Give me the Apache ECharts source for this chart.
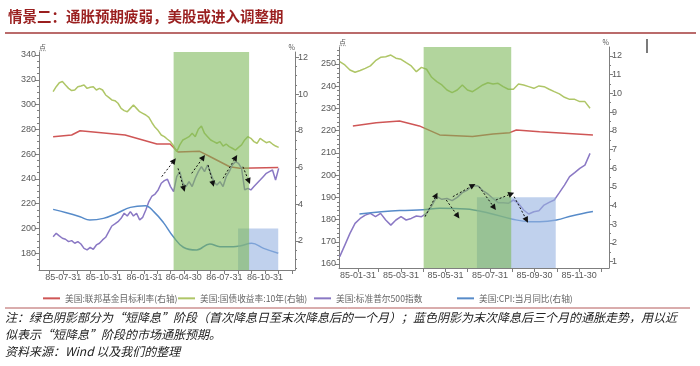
<!DOCTYPE html>
<html><head><meta charset="utf-8">
<script src="https://cdn.jsdelivr.net/npm/echarts@6/dist/echarts.min.js"></script>
<style>html,body{margin:0;padding:0;background:#fff}#c{width:700px;height:366px}</style>
</head><body><div id="c"></div>
<script>
// ---------- names ----------
const seriesNames = ['美国:联邦基金目标利率(右轴)', '美国:国债收益率:10年(右轴)', '美国:标准普尔500指数', '美国:CPI:当月同比(右轴)'];
const titleText = '情景二：通胀预期疲弱，美股或进入调整期';
const noteLines = [
  '注：绿色阴影部分为“短降息”阶段（首次降息日至末次降息后的一个月）；蓝色阴影为末次降息后三个月的通胀走势，用以近',
  '似表示“短降息”阶段的市场通胀预期。',
  '资料来源：Wind 以及我们的整理'
];

// ---------- left panel (1985-07 ~ 1986-11), weekly samples ----------
const leftWeekStart = '1985-07-08';
const leftSP = [193.4,196.1,194.0,192.1,191.3,189.4,190.2,188.1,189.4,187.5,
  184.0,182.7,184.8,183.2,186.7,188.1,190.8,192.9,197.5,202.0,
  203.7,205.5,208.2,212.3,210.1,213.6,210.1,212.3,206.9,209.0,
  214.9,221.7,226.2,227.8,231.1,236.5,238.6,239.7,233.8,229.7,
  241.8,245.9,236.5,233.8,237.8,233.8,240.5,245.9,249.9,245.9,
  251.2,244.5,237.8,235.1,237.8,233.8,241.8,245.9,251.2,253.9,
  252.6,248.5,231.1,232.4,231.1,233.8,236.5,239.1,241.8,244.5,
  245.9,247.2,239.1,248.5];
const leftY10 = [10.13,10.40,10.62,10.68,10.49,10.31,10.19,10.22,10.40,10.44,
  10.49,10.31,10.37,10.40,10.22,10.31,10.22,9.95,9.82,9.68,
  9.64,9.50,9.22,9.10,9.04,9.22,9.40,9.22,9.04,8.95,
  8.86,8.73,8.44,8.19,8.01,7.77,7.68,7.54,7.41,7.17,
  6.86,7.23,7.50,7.59,7.68,7.86,7.68,8.08,8.26,7.86,
  7.68,7.50,7.41,7.32,7.41,7.17,7.28,7.14,7.05,6.95,
  7.10,7.23,7.50,7.68,7.59,7.41,7.32,7.59,7.46,7.35,
  7.41,7.28,7.17,7.10];
const leftFedDates = ['1985-07-08','1985-08-19','1985-09-07','1985-12-18','1986-02-28','1986-03-30','1986-04-17','1986-06-05','1986-06-28','1986-08-12','1986-09-04','1986-11-30'];
const leftFed = [7.68,7.77,8.00,7.77,7.28,7.28,6.85,6.88,6.60,6.04,5.96,6.00];
const leftCpiDates = ['1985-07-08','1985-08-07','1985-09-07','1985-09-29','1985-10-30','1985-11-29','1985-12-30','1986-02-02','1986-02-21','1986-03-15','1986-04-06','1986-04-29','1986-05-29','1986-06-28','1986-07-21','1986-08-20','1986-09-04','1986-10-01','1986-10-28','1986-11-30'];
const leftCpi = [3.72,3.54,3.32,3.14,3.23,3.50,3.83,3.92,3.60,3.00,2.24,1.66,1.51,1.84,1.69,1.69,1.73,1.87,1.60,1.33];
const leftXLabels = ['1985-07-31','1985-10-31','1986-01-31','1986-04-30','1986-07-31','1986-10-31'];
const leftXTicks = ['1985-06-30','1985-07-31','1985-08-31','1985-09-30','1985-10-31','1985-11-30','1985-12-31','1986-01-31','1986-02-28','1986-03-31','1986-04-30','1986-05-31','1986-06-30','1986-07-31','1986-08-31','1986-09-30','1986-10-31','1986-11-30','1986-12-31'];
const leftYLabels = [180,200,220,240,260,280,300,320,340];
const leftY2Labels = [2,4,6,8,10,12];
const leftGreenShade = ['1986-04-07','1986-09-25'];
const leftBlueShade = ['1986-08-31','1986-11-30', 200];
const leftArrows = [
  [['1986-03-11',241.8],['1986-04-12',256.6]],
  [['1986-04-17',248.5],['1986-05-02',229.7]],
  [['1986-05-18',244.5],['1986-06-17',259.3]],
  [['1986-06-24',251.2],['1986-07-07',233.7]],
  [['1986-07-28',240.5],['1986-08-29',259.3]],
  [['1986-09-11',249.8],['1986-09-27',235.9]]
];

// ---------- right panel (1985-01 ~ 1985-12), weekly samples ----------
const rightWeekStart = '1985-01-06';
const rightSP = [163.3,168.5,173.8,178.3,180.5,182.0,182.8,181.3,182.8,179.8,
  177.5,179.8,181.3,179.8,180.5,181.6,181.3,182.8,186.1,190.3,
  189.1,189.5,188.5,190.0,192.1,193.3,195.1,195.2,193.0,191.5,
  189.5,187.6,187.6,187.3,188.8,187.3,184.3,182.5,183.5,184.0,
  186.5,187.7,188.8,192.1,195.5,199.3,201.1,203.0,204.5,209.8];
const rightY10 = [11.70,11.52,11.25,11.13,11.22,11.34,11.47,11.75,11.93,11.96,
  12.05,11.88,11.82,11.64,11.47,11.16,11.39,11.29,10.86,10.63,
  10.45,10.18,10.04,10.18,10.45,10.18,10.09,10.27,10.45,10.57,
  10.50,10.54,10.36,10.22,10.22,10.50,10.45,10.36,10.27,10.40,
  10.36,10.22,10.09,9.97,9.79,9.68,9.68,9.56,9.56,9.20];
const rightFedDates = ['1985-01-24','1985-02-25','1985-03-29','1985-04-25','1985-05-23','1985-07-07','1985-08-04','1985-08-27','1985-09-05','1985-10-07','1985-12-19'];
const rightFed = [8.26,8.43,8.52,8.26,7.78,7.69,7.83,7.90,8.04,7.95,7.78];
const rightCpiDates = ['1985-02-02','1985-03-29','1985-04-30','1985-05-23','1985-06-28','1985-07-30','1985-08-31','1985-09-23','1985-10-07','1985-10-30','1985-11-21','1985-12-19'];
const rightCpi = [3.55,3.73,3.77,3.85,3.82,3.59,3.27,3.14,3.14,3.23,3.46,3.68];
const rightXLabels = ['1985-01-31','1985-03-31','1985-05-31','1985-07-31','1985-09-30','1985-11-30'];
const rightXTicks = ['1985-01-31','1985-02-28','1985-03-31','1985-04-30','1985-05-31','1985-06-30','1985-07-31','1985-08-31','1985-09-30','1985-10-31','1985-11-30','1985-12-31'];
const rightYLabels = [160,170,180,190,200,210,220,230,240,250];
const rightY2Labels = [1,2,3,4,5,6,7,8,9,10,11,12];
const rightGreenShade = ['1985-05-01','1985-08-29'];
const rightBlueShade = ['1985-07-13','1985-10-29', 190];
const rightArrows = [
  [['1985-05-03',181.3],['1985-05-20',192.1]],
  [['1985-06-01',188.8],['1985-06-19',180.5]],
  [['1985-06-10',190.3],['1985-07-11',196.0]],
  [['1985-07-16',194.8],['1985-08-08',184.3]],
  [['1985-08-08',188.8],['1985-09-02',192.1]],
  [['1985-09-02',190.3],['1985-09-21',178.6]]
];

// ---------- helpers ----------
const D = s => Date.UTC(+s.slice(0,4), +s.slice(5,7)-1, +s.slice(8,10)) / 864e5;
const fmtDay = v => { const d = new Date(Math.round(v) * 864e5);
  return String(d.getUTCFullYear()).slice(2) + '-' + String(d.getUTCMonth()+1).padStart(2,'0') + '-' + String(d.getUTCDate()).padStart(2,'0'); };
const weekly = (start, vals) => vals.map((v, i) => [D(start) + 7*i, v]);
const zipD = (ds, vals) => ds.map((d, i) => [D(d), vals[i]]);
const range = (a, b, s) => { const r = []; for (let v = a; v <= b + 1e-9; v += s) r.push(+v.toFixed(4)); return r; };

const COLORS = ['#CF5656', '#AFC667', '#8A78C4', '#578BC9'];
const AX = '#7f7f7f', LBL = '#595959';
const FONT = '"Liberation Sans", "Noto Sans CJK SC", sans-serif';

// panel layouts
const P = [
  {grid:{left:39, right:405, top:52, bottom:96}, xmin:D('1985-06-06'), xmax:D('1987-01-07'),
   lmin:166.5, lmax:342.4, rmin:0.42, rmax:12.29, lLabels:leftYLabels, rLabels:leftY2Labels,
   lMinor:range(170,340,5), rMinor:range(0.5,12,0.5), xLabels:leftXLabels, xTicks:leftXTicks},
  {grid:{left:339, right:91, top:47, bottom:98}, xmin:D('1985-01-05'), xmax:D('1986-01-10'),
   lmin:158.2, lmax:257.65, rmin:0.66, rmax:12.48, lLabels:rightYLabels, rLabels:rightY2Labels,
   lMinor:range(160,256,2), rMinor:range(1,12,0.5), xLabels:rightXLabels, xTicks:rightXTicks}
];

const xAxis = [], yAxis = [];
P.forEach((p, g) => {
  xAxis.push({type:'value', gridIndex:g, min:p.xmin, max:p.xmax,
    axisLine:{show:true, lineStyle:{color:AX, width:1}},
    axisTick:{show:true, customValues:p.xTicks.map(D), length:4, lineStyle:{color:AX}},
    axisLabel:{customValues:p.xLabels.map(D), formatter:fmtDay, fontSize:9, color:LBL, margin:3, fontFamily:FONT},
    splitLine:{show:false}});
  const major = (pos, min, max, labels, name, align) => ({type:'value', gridIndex:g, position:pos, min, max,
    axisLine:{show:true, lineStyle:{color:AX, width:1}},
    axisTick:{show:true, customValues:labels, length:4, lineStyle:{color:AX}},
    axisLabel:{customValues:labels, fontSize:9, color:LBL, margin:3, fontFamily:FONT},
    splitLine:{show:false},
    name, nameLocation:'end', nameGap:1,
    nameTextStyle:{fontSize:7, color:LBL, align, verticalAlign:'bottom', fontFamily:'"Noto Sans CJK SC"'}});
  const minor = (pos, min, max, ticks) => ({type:'value', gridIndex:g, position:pos, min, max,
    axisLine:{show:false}, axisLabel:{show:false}, splitLine:{show:false},
    axisTick:{show:true, customValues:ticks, length:2, lineStyle:{color:AX}}});
  yAxis.push(major('left', p.lmin, p.lmax, p.lLabels, '点', 'left'));
  yAxis.push(major('right', p.rmin, p.rmax, p.rLabels, '%', 'right'));
  yAxis.push(minor('left', p.lmin, p.lmax, p.lMinor));
  yAxis.push(minor('right', p.rmin, p.rmax, p.rMinor));
});

const lineS = (name, g, yi, data, smooth) => ({type:'line', name, xAxisIndex:g, yAxisIndex:g*4 + yi, data,
  symbol:'none', smooth: smooth || false, z:2, animation:false,
  lineStyle:{width:1.5, color:COLORS[seriesNames.indexOf(name)]}, itemStyle:{color:COLORS[seriesNames.indexOf(name)]}});

const SHADE_COLORS = ['rgba(150,178,225,0.6)', 'rgba(122,182,86,0.58)'];
const shadeS = (g, blue, green, top) => ({type:'custom', name:'shade' + g, xAxisIndex:g, yAxisIndex:g*4, z:3,
  animation:false, silent:true, clip:true,
  encode:{x:[0,1], y:2},
  data:[[D(blue[0]), D(blue[1]), blue[2], 0], [D(green[0]), D(green[1]), top, 1]],
  renderItem(params, api) {
    const cs = params.coordSys;
    const a = api.coord([api.value(0), api.value(2)]);
    const b = api.coord([api.value(1), api.value(2)]);
    const y0 = Math.max(a[1], cs.y), bottom = cs.y + cs.height;
    return {type:'rect', shape:{x:a[0], y:y0, width:b[0]-a[0], height:bottom-y0},
      style:{fill:SHADE_COLORS[api.value(3)]}};
  }});
const arrowS = (g, arrows) => ({type:'custom', name:'arrows' + g, xAxisIndex:g, yAxisIndex:g*4, z:4,
  animation:false, silent:true,
  encode:{x:[0,2], y:[1,3]},
  data: arrows.map(a => [D(a[0][0]), a[0][1], D(a[1][0]), a[1][1]]),
  renderItem(params, api) {
    const a = api.coord([api.value(0), api.value(1)]);
    const b = api.coord([api.value(2), api.value(3)]);
    const dx = b[0]-a[0], dy = b[1]-a[1], L = Math.hypot(dx, dy), ux = dx/L, uy = dy/L;
    const hl = 6, hw = 3;
    const base = [b[0]-ux*hl, b[1]-uy*hl];
    return {type:'group', children:[
      {type:'line', shape:{x1:a[0], y1:a[1], x2:base[0], y2:base[1]}, style:{stroke:'#111', lineWidth:1, lineDash:[2,2]}},
      {type:'polygon', shape:{points:[b, [base[0]-uy*hw, base[1]+ux*hw], [base[0]+uy*hw, base[1]-ux*hw]]}, style:{fill:'#111'}}
    ]};
  }});

const series = [
  lineS(seriesNames[0], 0, 1, zipD(leftFedDates, leftFed)),
  lineS(seriesNames[1], 0, 1, weekly(leftWeekStart, leftY10)),
  lineS(seriesNames[2], 0, 0, weekly(leftWeekStart, leftSP)),
  lineS(seriesNames[3], 0, 1, zipD(leftCpiDates, leftCpi), 0.4),
  shadeS(0, leftBlueShade, leftGreenShade, P[0].lmax),
  arrowS(0, leftArrows),
  lineS(seriesNames[0], 1, 1, zipD(rightFedDates, rightFed)),
  lineS(seriesNames[1], 1, 1, weekly(rightWeekStart, rightY10)),
  lineS(seriesNames[2], 1, 0, weekly(rightWeekStart, rightSP)),
  lineS(seriesNames[3], 1, 1, zipD(rightCpiDates, rightCpi), 0.4),
  shadeS(1, rightBlueShade, rightGreenShade, P[1].lmax),
  arrowS(1, rightArrows)
];

const legendX = [38, 173, 309, 452];
const legend = seriesNames.map((n, i) => ({data:[n], left:legendX[i], top:289, itemWidth:17, itemHeight:2,
  icon:'rect', itemGap:0, selectedMode:false,
  textStyle:{fontSize:8.7, color:'#666', fontFamily:'"Noto Sans CJK SC"'}}));

const graphic = [
  {type:'text', left:8, top:9, style:{text:titleText, font:'bold 14.5px "Noto Sans CJK SC"', fill:'#9a1f1f'}},
  {type:'line', shape:{x1:5, y1:33, x2:696, y2:33}, style:{stroke:'#a33a3a', lineWidth:1.5}},
  {type:'line', shape:{x1:647, y1:39, x2:647, y2:53}, style:{stroke:'#222', lineWidth:1.2}},
  {type:'line', shape:{x1:5, y1:308, x2:690, y2:308}, style:{stroke:'#b45a5a', lineWidth:1}},
  {type:'text', left:5, top:311, style:{text:noteLines[0], font:'italic 12px "Noto Sans CJK SC"', fill:'#222'}},
  {type:'text', left:5, top:328, style:{text:noteLines[1], font:'italic 12px "Noto Sans CJK SC"', fill:'#222'}},
  {type:'text', left:5, top:345, style:{text:noteLines[2], font:'italic 12px "Noto Sans CJK SC"', fill:'#222'}}
];

const chart = echarts.init(document.getElementById('c'), null, {renderer:'canvas'});
chart.setOption({
  animation:false,
  backgroundColor:'#fff',
  grid: P.map(p => p.grid),
  xAxis, yAxis, series, legend, graphic
});
</script></body></html>
